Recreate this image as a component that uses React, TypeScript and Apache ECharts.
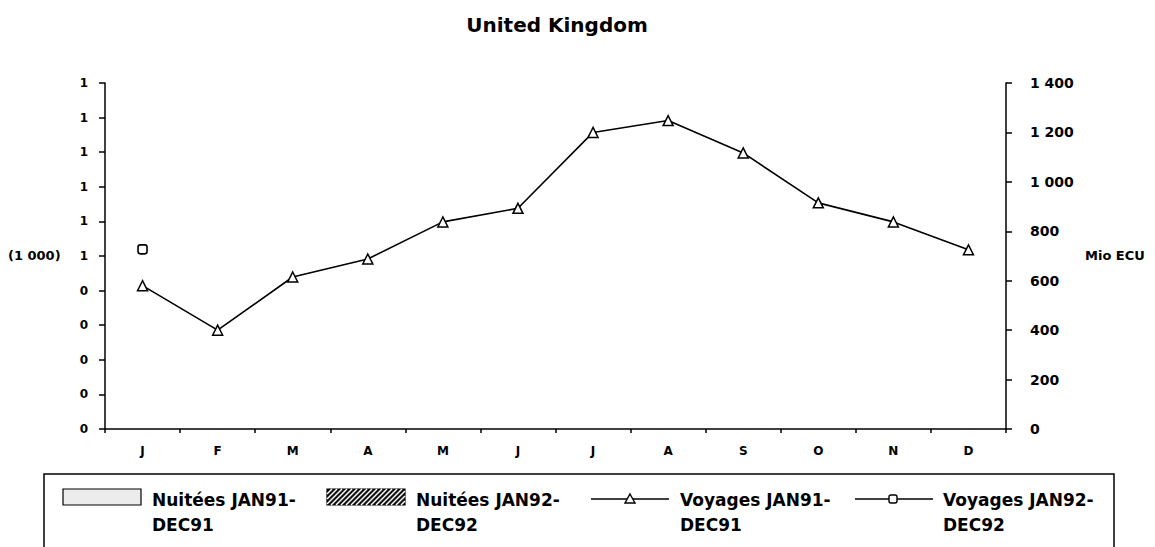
import React, { useEffect, useRef } from 'react';
import * as echarts from 'echarts';

const months = ['J', 'F', 'M', 'A', 'M', 'J', 'J', 'A', 'S', 'O', 'N', 'D'];
const voyages91 = [580, 400, 615, 688, 838, 893, 1200, 1248, 1117, 915, 838, 725];
const voyages92 = [727, null, null, null, null, null, null, null, null, null, null, null];
const nuitees91 = [null, null, null, null, null, null, null, null, null, null, null, null];
const nuitees92 = [null, null, null, null, null, null, null, null, null, null, null, null];
const leftTickLabels = ['0', '0', '0', '0', '0', '1', '1', '1', '1', '1', '1'];
const rightMax = 1400;
const rightStep = 200;
const seriesNames = ['Nuitées JAN91-\nDEC91', 'Nuitées JAN92-\nDEC92', 'Voyages JAN91-\nDEC91', 'Voyages JAN92-\nDEC92'];

const FONT = '"DejaVu Sans", sans-serif';

function fmtRight(v: number): string {
  if (v >= 1000) {
    return `${Math.floor(v / 1000)} ${String(v % 1000).padStart(3, '0')}`;
  }
  return String(v);
}

function hatchLines(x0: number, y0: number, w: number, h: number) {
  const x1 = x0 + w;
  const y1 = y0 + h;
  const out: any[] = [];
  for (let a = x0 - h; a < x1; a += 5) {
    let sx = a, sy = y1, ex = a + h, ey = y0;
    if (sx < x0) { sy = y1 - (x0 - sx); sx = x0; }
    if (ex > x1) { ey = y0 + (ex - x1); ex = x1; }
    if (ex <= sx) continue;
    out.push({
      type: 'line',
      shape: { x1: sx, y1: sy, x2: ex, y2: ey },
      style: { stroke: '#fff', lineWidth: 1.4 },
      silent: true,
    });
  }
  return out;
}

export default function App() {
  const ref = useRef<HTMLDivElement>(null);

  useEffect(() => {
    if (!ref.current) return;
    const chart = echarts.init(ref.current, null, { renderer: 'svg' });

    const legendTop = 474;
    const itemX = [63, 327, 591, 855];
    const textX = [152, 416, 680, 943];
    const iconY = 489;
    const iconH = 16;
    const iconW = 78;
    const lineY = 499;

    const legendGraphics: any[] = [
      {
        type: 'rect',
        shape: { x: 44, y: legendTop, width: 1070, height: 90 },
        style: { fill: '#fff', stroke: '#000', lineWidth: 1.5 },
        silent: true,
      },
      {
        type: 'rect',
        shape: { x: itemX[0], y: iconY, width: iconW, height: iconH },
        style: { fill: '#ececec', stroke: '#000', lineWidth: 1.2 },
        silent: true,
      },
      {
        type: 'rect',
        shape: { x: itemX[1], y: iconY, width: iconW, height: iconH },
        style: { fill: '#111', stroke: '#000', lineWidth: 1.2 },
        silent: true,
      },
      ...hatchLines(itemX[1], iconY, iconW, iconH),
      {
        type: 'line',
        shape: { x1: itemX[2], y1: lineY, x2: itemX[2] + iconW, y2: lineY },
        style: { stroke: '#000', lineWidth: 1.5 },
        silent: true,
      },
      {
        type: 'polygon',
        shape: { points: [[itemX[2] + 39, lineY - 5], [itemX[2] + 44, lineY + 4], [itemX[2] + 34, lineY + 4]] },
        style: { fill: '#fff', stroke: '#000', lineWidth: 1.4 },
        silent: true,
      },
      {
        type: 'line',
        shape: { x1: itemX[3], y1: lineY, x2: itemX[3] + iconW, y2: lineY },
        style: { stroke: '#000', lineWidth: 1.5 },
        silent: true,
      },
      {
        type: 'rect',
        shape: { x: itemX[3] + 34, y: lineY - 4, width: 8, height: 8, r: 2 },
        style: { fill: '#fff', stroke: '#000', lineWidth: 1.4 },
        silent: true,
      },
    ];
    seriesNames.forEach((name, i) => {
      legendGraphics.push({
        type: 'text',
        x: textX[i],
        y: 487,
        style: {
          text: name,
          font: `bold 17px ${FONT}`,
          fill: '#000',
          lineHeight: 25,
          textAlign: 'left',
          textVerticalAlign: 'top',
        },
        silent: true,
      });
    });

    chart.setOption({
      animation: false,
      backgroundColor: '#fff',
      grid: { left: 105, right: 149, top: 83, bottom: 118, containLabel: false },
      xAxis: {
        type: 'category',
        data: months,
        boundaryGap: true,
        axisLine: { show: true, lineStyle: { color: '#000', width: 1.5 } },
        axisTick: { show: true, alignWithLabel: false, length: 4, lineStyle: { color: '#000', width: 1.5 } },
        axisLabel: { color: '#000', fontFamily: FONT, fontWeight: 'bold', fontSize: 12, margin: 16 },
        splitLine: { show: false },
      },
      yAxis: [
        {
          type: 'value',
          position: 'left',
          min: 0,
          max: 1,
          interval: 0.1,
          axisLine: { show: true, lineStyle: { color: '#000', width: 1.5 } },
          axisTick: { show: true, length: 6, lineStyle: { color: '#000', width: 1.5 } },
          axisLabel: {
            color: '#000',
            fontFamily: FONT,
            fontWeight: 'bold',
            fontSize: 12,
            margin: 17,
            formatter: (_v: number, idx: number) => leftTickLabels[idx] ?? '',
          },
          splitLine: { show: false },
        },
        {
          type: 'value',
          position: 'right',
          min: 0,
          max: rightMax,
          interval: rightStep,
          axisLine: { show: true, lineStyle: { color: '#000', width: 1.5 } },
          axisTick: { show: true, length: 6, lineStyle: { color: '#000', width: 1.5 } },
          axisLabel: {
            color: '#000',
            fontFamily: FONT,
            fontWeight: 'bold',
            fontSize: 14,
            margin: 24,
            formatter: (v: number) => fmtRight(v),
          },
          splitLine: { show: false },
        },
      ],
      series: [
        { name: seriesNames[0], type: 'bar', yAxisIndex: 0, data: nuitees91 },
        { name: seriesNames[1], type: 'bar', yAxisIndex: 0, data: nuitees92 },
        {
          name: seriesNames[2],
          type: 'line',
          yAxisIndex: 1,
          data: voyages91,
          symbol: 'triangle',
          symbolSize: 10,
          lineStyle: { color: '#000', width: 1.6 },
          itemStyle: { color: '#fff', borderColor: '#000', borderWidth: 1.5 },
        },
        {
          name: seriesNames[3],
          type: 'line',
          yAxisIndex: 1,
          data: voyages92,
          symbol: 'roundRect',
          symbolSize: 9,
          connectNulls: false,
          lineStyle: { color: '#000', width: 1.6 },
          itemStyle: { color: '#fff', borderColor: '#000', borderWidth: 1.6 },
        },
      ],
      graphic: [
        {
          type: 'text',
          x: 557,
          y: 25,
          style: {
            text: 'United Kingdom',
            font: `bold 20px ${FONT}`,
            fill: '#000',
            textAlign: 'center',
            textVerticalAlign: 'middle',
          },
          silent: true,
        },
        {
          type: 'text',
          x: 8,
          y: 255,
          style: {
            text: '(1 000)',
            font: `bold 13px ${FONT}`,
            fill: '#000',
            textAlign: 'left',
            textVerticalAlign: 'middle',
          },
          silent: true,
        },
        {
          type: 'text',
          x: 1085,
          y: 255,
          style: {
            text: 'Mio ECU',
            font: `bold 13px ${FONT}`,
            fill: '#000',
            textAlign: 'left',
            textVerticalAlign: 'middle',
          },
          silent: true,
        },
        ...legendGraphics,
      ],
    });

    return () => chart.dispose();
  }, []);

  return (
    <div
      ref={ref}
      style={{ position: 'fixed', left: 0, top: 0, width: 1155, height: 547 }}
    />
  );
}
